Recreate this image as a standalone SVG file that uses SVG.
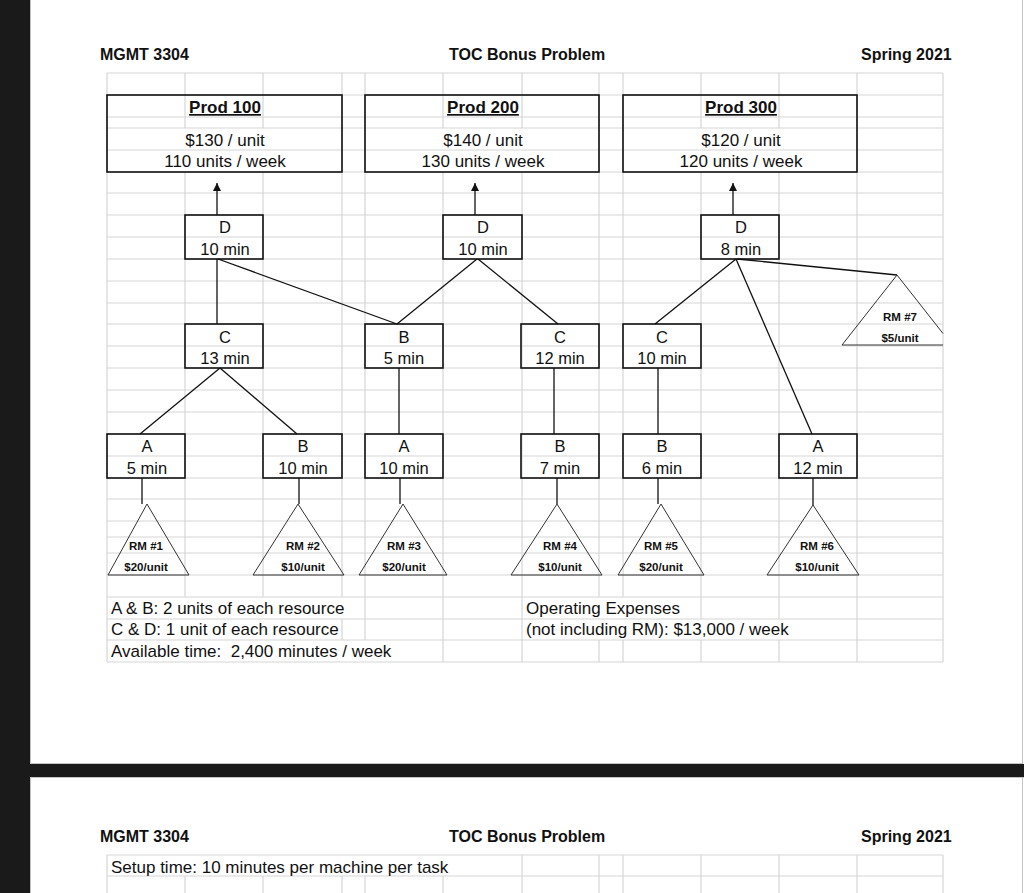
<svg xmlns="http://www.w3.org/2000/svg" width="1024" height="893" viewBox="0 0 1024 893">
<style>
.grid{fill:none;stroke:#d6d6d6;stroke-width:1.2}
.box{fill:none;stroke:#111;stroke-width:1.6}
.con{fill:none;stroke:#111;stroke-width:1.3}
.tri{fill:none;stroke:#333;stroke-width:1}
.hdr{font-family:"Liberation Sans",Arial,Helvetica,sans-serif;font-size:16px;font-weight:bold;fill:#111}
.t17{font-family:"Liberation Sans",Arial,Helvetica,sans-serif;font-size:17px;fill:#111}
.ttl{font-family:"Liberation Sans",Arial,Helvetica,sans-serif;font-size:17px;font-weight:bold;fill:#111;text-decoration:underline}
.nd{font-family:"Liberation Sans",Arial,Helvetica,sans-serif;font-size:16.5px;fill:#111;text-anchor:middle}
.rm{font-family:"Liberation Sans",Arial,Helvetica,sans-serif;font-size:11.5px;font-weight:bold;fill:#111;text-anchor:middle}
.mid{text-anchor:middle}
</style>
<defs>
<marker id="arr" markerWidth="8" markerHeight="8" refX="8" refY="4" orient="auto" markerUnits="userSpaceOnUse">
<path d="M0,0 L8,4 L0,8 z" fill="#111"/>
</marker>
</defs>
<!-- background / pages -->
<rect x="0" y="0" width="1024" height="893" fill="#ffffff"/>
<rect x="0" y="0" width="30" height="893" fill="#1a1a1a"/>
<rect x="30" y="764" width="994" height="13" fill="#1a1a1a"/>
<path d="M30.5 0 V764 M30.5 777 V893 M1022.5 0 V764 M1022.5 777 V893 M30 763.5 H1022 M30 777.5 H1024" fill="none" stroke="#c4c4c4" stroke-width="1"/>
<!-- grid page 1 -->
<g id="grid1" class="grid">
<path d="M107 73H943M107 95H943M107 117H943M107 128H943M107 150H943M107 172H943M107 193H943M107 215H943M107 237H943M107 259H943M107 281H943M107 303H943M107 324H943M107 346H943M107 368H943M107 390H943M107 412H943M107 434H943M107 456H943M107 478H943M107 499H943M107 521H943M107 537H943M107 553H943M107 575H943M107 597H943M107 619H943M107 640H943M107 662H943"/>
<path d="M107 73V662 M185 73V128M185 172V597 M263 73V128M263 172V597 M342 73V597M342 619V640 M365 73V640 M443 73V128M443 172V662 M522 73V128M522 172V662 M599 73V597M599 640V662 M623 73V597M623 640V662 M701 73V128M701 172V619M701 640V662 M779 73V128M779 172V619M779 640V662 M857 73V662 M943 73V662"/>
</g>
<!-- grid page 2 -->
<g id="grid2" class="grid">
<path d="M107 855H943M107 876H943"/>
<path d="M107 855V893 M185 876V893 M263 876V893 M342 876V893 M365 876V893 M443 876V893 M522 855V893 M599 855V893 M623 855V893 M701 855V893 M779 855V893 M857 855V893 M943 855V893"/>
</g>
<!-- headers -->
<g id="header1">
<text class="hdr" x="100" y="60">MGMT 3304</text>
<text class="hdr" x="449" y="60">TOC Bonus Problem</text>
<text class="hdr" x="861" y="60">Spring 2021</text>
</g>
<!-- connectors -->
<g id="connectors">
<line class="con" x1="217" y1="215" x2="217" y2="183" marker-end="url(#arr)"/>
<line class="con" x1="475" y1="215" x2="475" y2="183" marker-end="url(#arr)"/>
<line class="con" x1="733" y1="215" x2="733" y2="183" marker-end="url(#arr)"/>
<line class="con" x1="217" y1="259" x2="217" y2="324"/>
<line class="con" x1="218" y1="259" x2="397" y2="324"/>
<line class="con" x1="477" y1="259" x2="397" y2="324"/>
<line class="con" x1="478" y1="259" x2="558" y2="324"/>
<line class="con" x1="736" y1="259" x2="655" y2="324"/>
<line class="con" x1="736" y1="259" x2="812" y2="434"/>
<line class="con" x1="737" y1="259" x2="897" y2="275"/>
<line class="con" x1="220" y1="368" x2="140" y2="434"/>
<line class="con" x1="220" y1="368" x2="297" y2="434"/>
<line class="con" x1="399" y1="368" x2="399" y2="434"/>
<line class="con" x1="554" y1="368" x2="554" y2="434"/>
<line class="con" x1="658" y1="368" x2="658" y2="434"/>
<line class="con" x1="142" y1="478" x2="142" y2="504"/>
<line class="con" x1="299" y1="478" x2="299" y2="504"/>
<line class="con" x1="400" y1="478" x2="400" y2="504"/>
<line class="con" x1="557" y1="478" x2="557" y2="504"/>
<line class="con" x1="658" y1="478" x2="658" y2="504"/>
<line class="con" x1="813" y1="478" x2="813" y2="505"/>
</g>
<!-- product boxes -->
<g id="prod100">
<rect class="box" x="107" y="95" width="235" height="77"/>
<text class="ttl mid" x="225" y="113">Prod 100</text>
<text class="t17 mid" x="225" y="146">$130 / unit</text>
<text class="t17 mid" x="225" y="167">110 units / week</text>
</g>
<g id="prod200">
<rect class="box" x="365" y="95" width="234" height="77"/>
<text class="ttl mid" x="483" y="113">Prod 200</text>
<text class="t17 mid" x="483" y="146">$140 / unit</text>
<text class="t17 mid" x="483" y="167">130 units / week</text>
</g>
<g id="prod300">
<rect class="box" x="623" y="95" width="234" height="77"/>
<text class="ttl mid" x="741" y="113">Prod 300</text>
<text class="t17 mid" x="741" y="146">$120 / unit</text>
<text class="t17 mid" x="741" y="167">120 units / week</text>
</g>
<!-- D row -->
<g id="d100"><rect class="box" x="185" y="215" width="78" height="44"/><text class="nd" x="225" y="233">D</text><text class="nd" x="225" y="255">10 min</text></g>
<g id="d200"><rect class="box" x="443" y="215" width="79" height="44"/><text class="nd" x="483" y="233">D</text><text class="nd" x="483" y="255">10 min</text></g>
<g id="d300"><rect class="box" x="701" y="215" width="78" height="44"/><text class="nd" x="741" y="233">D</text><text class="nd" x="741" y="255">8 min</text></g>
<!-- row 2 -->
<g id="c13"><rect class="box" x="185" y="324" width="78" height="44"/><text class="nd" x="225" y="343">C</text><text class="nd" x="225" y="364">13 min</text></g>
<g id="b5"><rect class="box" x="365" y="324" width="78" height="44"/><text class="nd" x="404" y="343">B</text><text class="nd" x="404" y="364">5 min</text></g>
<g id="c12"><rect class="box" x="521" y="324" width="78" height="44"/><text class="nd" x="560" y="343">C</text><text class="nd" x="560" y="364">12 min</text></g>
<g id="c10"><rect class="box" x="623" y="324" width="78" height="44"/><text class="nd" x="662" y="343">C</text><text class="nd" x="662" y="364">10 min</text></g>
<!-- row 3 -->
<g id="a5"><rect class="box" x="107" y="434" width="78" height="44"/><text class="nd" x="147" y="452">A</text><text class="nd" x="147" y="474">5 min</text></g>
<g id="b10"><rect class="box" x="263" y="434" width="79" height="44"/><text class="nd" x="303" y="452">B</text><text class="nd" x="303" y="474">10 min</text></g>
<g id="a10"><rect class="box" x="365" y="434" width="78" height="44"/><text class="nd" x="404" y="452">A</text><text class="nd" x="404" y="474">10 min</text></g>
<g id="b7"><rect class="box" x="521" y="434" width="78" height="44"/><text class="nd" x="560" y="452">B</text><text class="nd" x="560" y="474">7 min</text></g>
<g id="b6"><rect class="box" x="623" y="434" width="78" height="44"/><text class="nd" x="662" y="452">B</text><text class="nd" x="662" y="474">6 min</text></g>
<g id="a12"><rect class="box" x="779" y="434" width="78" height="44"/><text class="nd" x="818" y="452">A</text><text class="nd" x="818" y="474">12 min</text></g>
<!-- raw materials -->
<g id="rm1"><polygon class="tri" points="147,504 189,575 108,575"/><text class="rm" x="146" y="550">RM #1</text><text class="rm" x="146" y="571">$20/unit</text></g>
<g id="rm2"><polygon class="tri" points="298,504 344,575 253,575"/><text class="rm" x="303" y="550">RM #2</text><text class="rm" x="303" y="571">$10/unit</text></g>
<g id="rm3"><polygon class="tri" points="403,504 447,575 359,575"/><text class="rm" x="404" y="550">RM #3</text><text class="rm" x="404" y="571">$20/unit</text></g>
<g id="rm4"><polygon class="tri" points="557,504 602,575 511,575"/><text class="rm" x="560" y="550">RM #4</text><text class="rm" x="560" y="571">$10/unit</text></g>
<g id="rm5"><polygon class="tri" points="661,504 704,575 618,575"/><text class="rm" x="661" y="550">RM #5</text><text class="rm" x="661" y="571">$20/unit</text></g>
<g id="rm6"><polygon class="tri" points="813,505 859,575 767,575"/><text class="rm" x="817" y="550">RM #6</text><text class="rm" x="817" y="571">$10/unit</text></g>
<g id="rm7"><polyline class="tri" points="943,333.5 897,275 842,345 943,345"/><text class="rm" x="900" y="321">RM #7</text><text class="rm" x="900" y="342">$5/unit</text></g>
<!-- notes -->
<g id="notes">
<text class="t17" x="111" y="614">A &amp; B: 2 units of each resource</text>
<text class="t17" x="111" y="635">C &amp; D: 1 unit of each resource</text>
<text class="t17" x="111" y="657" xml:space="preserve">Available time:  2,400 minutes / week</text>
<text class="t17" x="526" y="614">Operating Expenses</text>
<text class="t17" x="526" y="635">(not including RM): $13,000 / week</text>
</g>
<!-- page 2 -->
<g id="header2">
<text class="hdr" x="100" y="842">MGMT 3304</text>
<text class="hdr" x="449" y="842">TOC Bonus Problem</text>
<text class="hdr" x="861" y="842">Spring 2021</text>
<text class="t17" x="111" y="873">Setup time: 10 minutes per machine per task</text>
</g>
</svg>
